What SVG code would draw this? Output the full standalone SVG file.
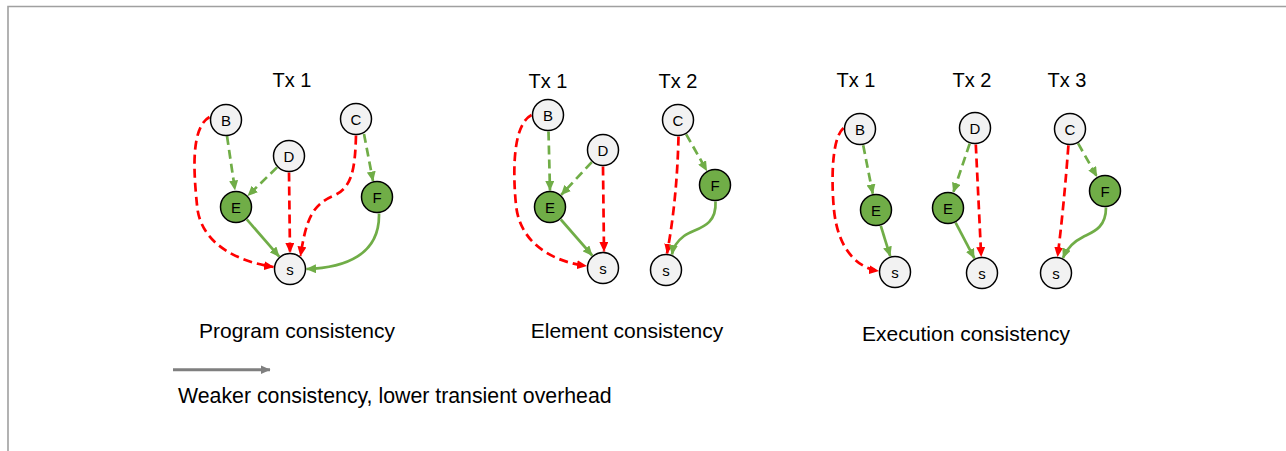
<svg xmlns="http://www.w3.org/2000/svg" width="1286" height="451" viewBox="0 0 1286 451">
<defs>
<style>
.frame{stroke:#a0a0a0;stroke-width:1.6;fill:none}
.nd{fill:#f2f2f2;stroke:#000;stroke-width:1.5}
.ng{fill:#70ad47;stroke:#000;stroke-width:1.5}
.lbl{font-family:"Liberation Sans",Arial,sans-serif;font-size:15px;fill:#000;text-anchor:middle;dominant-baseline:central}
.tx{font-family:"Liberation Sans",Arial,sans-serif;font-size:20px;fill:#000;text-anchor:middle}
.cap{font-family:"Liberation Sans",Arial,sans-serif;font-size:21px;fill:#000;text-anchor:middle}
.rd{fill:none;stroke:#ff0000;stroke-width:2.7;stroke-dasharray:9,5;marker-end:url(#ar)}
.gd{fill:none;stroke:#70ad47;stroke-width:2.7;stroke-dasharray:9,5;marker-end:url(#ag)}
.gs{fill:none;stroke:#70ad47;stroke-width:2.7;marker-end:url(#ag)}
</style>
<marker id="ar" markerUnits="userSpaceOnUse" markerWidth="10" markerHeight="9" refX="9.5" refY="4.5" orient="auto"><path d="M0,0 L10,4.5 L0,9 z" fill="#ff0000"/></marker>
<marker id="ag" markerUnits="userSpaceOnUse" markerWidth="10" markerHeight="9" refX="9.5" refY="4.5" orient="auto"><path d="M0,0 L10,4.5 L0,9 z" fill="#70ad47"/></marker>
<marker id="agr" markerUnits="userSpaceOnUse" markerWidth="10" markerHeight="9" refX="9.5" refY="4.5" orient="auto"><path d="M0,0 L10,4.5 L0,9 z" fill="#7f7f7f"/></marker>
</defs>
<rect width="1286" height="451" fill="#fff"/>
<path class="frame" d="M8,451 V6.5 H1286"/>

<g id="connectors">
<!-- Panel 1 -->
<path class="gd" d="M227,136 L235,190"/>
<path class="gd" d="M277,167.4 L247.9,195.6"/>
<path class="rd" d="M289,172.5 L290,252.5"/>
<path class="gs" d="M246.8,219.4 L279.2,256.6"/>
<path class="gd" d="M364,134 L373,181"/>
<path class="rd" d="M209.5,117 C190,128 194,175 197,205 C200,245 240,262 273.5,267"/>
<path class="rd" d="M356,135.5 C355,170 352,188 333,196 C312,205 306,220 300.5,256"/>
<path class="gs" d="M379,213.5 C380,255 345,268 306.5,269"/>
<!-- Panel 2 -->
<path class="gd" d="M548.5,131.5 L550,190.5"/>
<path class="gd" d="M591.8,162.1 L561.2,194.9"/>
<path class="rd" d="M603,166.5 L604,251.5"/>
<path class="rd" d="M531.5,115 C512,125 513,175 516,205 C520,245 555,262 586.5,266"/>
<path class="gs" d="M560.8,219.5 L592.2,255.5"/>
<path class="rd" d="M678.5,136.5 Q677,200 667,253.5"/>
<path class="gd" d="M686.2,134.3 L706.8,170.7"/>
<path class="gs" d="M715.5,201.5 C717,228 695,228 684,236 C676,242 673,248 672,254.5"/>
<!-- Panel 3 -->
<path class="gd" d="M863.2,145.2 L872.8,193.8"/>
<path class="rd" d="M843.5,128 C830,140 832,190 834,210 C838,250 858,268 878.5,271"/>
<path class="gs" d="M880.8,225.8 L890.2,256.2"/>
<path class="gd" d="M969.7,143.6 L953.3,192.4"/>
<path class="rd" d="M975.8,144.5 L981.2,256.5"/>
<path class="gs" d="M955.6,222.6 L974.4,258.4"/>
<path class="rd" d="M1068.4,145.4 Q1064,205 1057.6,256.6"/>
<path class="gd" d="M1078.1,143.4 L1096.9,176.6"/>
<path class="gs" d="M1106,207.5 C1106,228 1093,232 1083,237 C1073,242 1067,248 1063,258"/>
<!-- legend arrow -->
<path d="M173,369.7 L270,369.7" stroke="#7f7f7f" stroke-width="3" fill="none" marker-end="url(#agr)"/>
</g>

<!-- Panel 1 nodes -->
<g id="p1-B"><circle class="nd" cx="226" cy="120" r="15.5"/><text class="lbl" x="226" y="120">B</text></g>
<g id="p1-C"><circle class="nd" cx="356" cy="119" r="15.5"/><text class="lbl" x="356" y="119">C</text></g>
<g id="p1-D"><circle class="nd" cx="289" cy="156" r="15.5"/><text class="lbl" x="289" y="156">D</text></g>
<g id="p1-E"><circle class="ng" cx="236" cy="207" r="15.5"/><text class="lbl" x="236" y="207">E</text></g>
<g id="p1-F"><circle class="ng" cx="377" cy="197" r="15.5"/><text class="lbl" x="377" y="197">F</text></g>
<g id="p1-s"><circle class="nd" cx="290" cy="269" r="15.5"/><text class="lbl" x="290" y="269">s</text></g>

<!-- Panel 2 nodes -->
<g id="p2-B"><circle class="nd" cx="548" cy="115" r="15.5"/><text class="lbl" x="548" y="115">B</text></g>
<g id="p2-D"><circle class="nd" cx="603" cy="150" r="15.5"/><text class="lbl" x="603" y="150">D</text></g>
<g id="p2-E"><circle class="ng" cx="550" cy="207" r="15.5"/><text class="lbl" x="550" y="207">E</text></g>
<g id="p2-s1"><circle class="nd" cx="603" cy="268" r="15.5"/><text class="lbl" x="603" y="268">s</text></g>
<g id="p2-C"><circle class="nd" cx="678" cy="120" r="15.5"/><text class="lbl" x="678" y="120">C</text></g>
<g id="p2-F"><circle class="ng" cx="715" cy="185" r="15.5"/><text class="lbl" x="715" y="185">F</text></g>
<g id="p2-s2"><circle class="nd" cx="666" cy="270" r="15.5"/><text class="lbl" x="666" y="270">s</text></g>

<!-- Panel 3 nodes -->
<g id="p3-B"><circle class="nd" cx="860" cy="129" r="15.5"/><text class="lbl" x="860" y="129">B</text></g>
<g id="p3-E1"><circle class="ng" cx="876" cy="210" r="15.5"/><text class="lbl" x="876" y="210">E</text></g>
<g id="p3-s1"><circle class="nd" cx="895" cy="272" r="15.5"/><text class="lbl" x="895" y="272">s</text></g>
<g id="p3-D"><circle class="nd" cx="975" cy="128" r="15.5"/><text class="lbl" x="975" y="128">D</text></g>
<g id="p3-E2"><circle class="ng" cx="948" cy="208" r="15.5"/><text class="lbl" x="948" y="208">E</text></g>
<g id="p3-s2"><circle class="nd" cx="982" cy="273" r="15.5"/><text class="lbl" x="982" y="273">s</text></g>
<g id="p3-C"><circle class="nd" cx="1070" cy="129" r="15.5"/><text class="lbl" x="1070" y="129">C</text></g>
<g id="p3-F"><circle class="ng" cx="1105" cy="191" r="15.5"/><text class="lbl" x="1105" y="191">F</text></g>
<g id="p3-s3"><circle class="nd" cx="1056" cy="273" r="15.5"/><text class="lbl" x="1056" y="273">s</text></g>

<g id="labels">
<text class="tx" x="292" y="87">Tx 1</text>
<text class="tx" x="548" y="88">Tx 1</text>
<text class="tx" x="678" y="88">Tx 2</text>
<text class="tx" x="856" y="87">Tx 1</text>
<text class="tx" x="972" y="87">Tx 2</text>
<text class="tx" x="1067" y="87">Tx 3</text>
<text class="cap" x="297" y="338">Program consistency</text>
<text class="cap" x="627" y="338">Element consistency</text>
<text class="cap" x="966" y="341">Execution consistency</text>
<text class="cap" x="178" y="403" style="text-anchor:start;font-size:21.3px">Weaker consistency, lower transient overhead</text>
</g>
</svg>
